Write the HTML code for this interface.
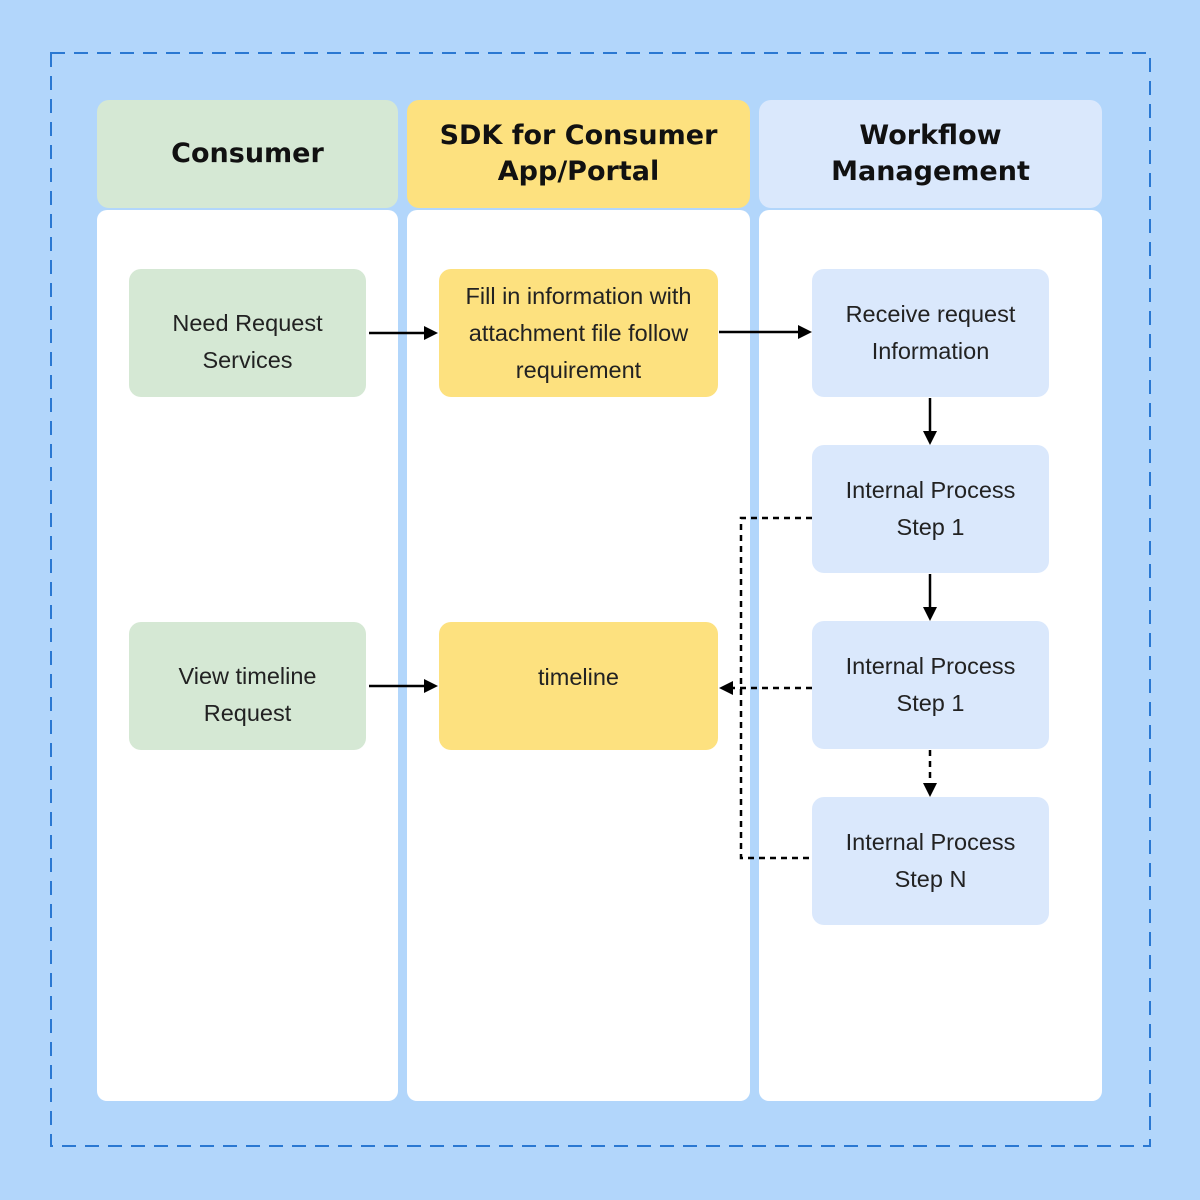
<!DOCTYPE html>
<html><head><meta charset="utf-8"><style>
body{margin:0;width:1200px;height:1200px;background:#b2d6fb;position:relative;overflow:hidden;font-family:"Liberation Sans",sans-serif}
.a{position:absolute;box-sizing:border-box}
.hd{border-radius:12px;font-family:"DejaVu Sans",sans-serif;font-weight:bold;font-size:27px;line-height:36px;display:flex;align-items:center;justify-content:center;text-align:center;color:#111}
.bd{background:#fff;border-radius:10px}
.n{border-radius:12px;font-size:23.5px;line-height:37px;display:flex;align-items:center;justify-content:center;text-align:center;color:#222}
.g{background:#d5e8d4}.y{background:#fde17f}.b{background:#dae8fc}
</style></head><body>
<div class="a hd g" style="left:97px;top:100px;width:301px;height:108px">Consumer</div>
<div class="a hd y" style="left:407px;top:100px;width:343px;height:108px">SDK for Consumer<br>App/Portal</div>
<div class="a hd b" style="left:759px;top:100px;width:343px;height:108px">Workflow<br>Management</div>
<div class="a bd" style="left:97px;top:210px;width:301px;height:891px"></div>
<div class="a bd" style="left:407px;top:210px;width:343px;height:891px"></div>
<div class="a bd" style="left:759px;top:210px;width:343px;height:891px"></div>
<div class="a n g" style="left:129px;top:269px;width:237px;height:128px;padding-top:18px">Need Request<br>Services</div>
<div class="a n y" style="left:439px;top:269px;width:279px;height:128px">Fill in information with<br>attachment file follow<br>requirement</div>
<div class="a n b" style="left:812px;top:269px;width:237px;height:128px">Receive request<br>Information</div>
<div class="a n b" style="left:812px;top:445px;width:237px;height:128px">Internal Process<br>Step 1</div>
<div class="a n b" style="left:812px;top:621px;width:237px;height:128px">Internal Process<br>Step 1</div>
<div class="a n b" style="left:812px;top:797px;width:237px;height:128px">Internal Process<br>Step N</div>
<div class="a n g" style="left:129px;top:622px;width:237px;height:128px;padding-top:18px">View timeline<br>Request</div>
<div class="a n y" style="left:439px;top:622px;width:279px;height:128px;align-items:flex-start;padding-top:37px">timeline</div>
<svg class="a" style="left:0;top:0" width="1200" height="1200">
<rect x="51" y="53" width="1099" height="1093" fill="none" stroke="#2a78d2" stroke-width="2" stroke-dasharray="14,9"/>
<g stroke="#000" stroke-width="2.5" fill="none">
<line x1="369" y1="333" x2="428" y2="333"/>
<line x1="719" y1="332" x2="802" y2="332"/>
<line x1="930" y1="398" x2="930" y2="435"/>
<line x1="930" y1="574" x2="930" y2="611"/>
<line x1="369" y1="686" x2="428" y2="686"/>
<g stroke-dasharray="6,5">
<line x1="930" y1="750" x2="930" y2="787"/>
<polyline points="812,518 741,518 741,858 812,858"/>
<line x1="812" y1="688" x2="731" y2="688"/>
</g></g>
<g fill="#000">
<polygon points="438,333 424,326 424,340"/>
<polygon points="812,332 798,325 798,339"/>
<polygon points="930,445 923,431 937,431"/>
<polygon points="930,621 923,607 937,607"/>
<polygon points="438,686 424,679 424,693"/>
<polygon points="930,797 923,783 937,783"/>
<polygon points="719,688 733,681 733,695"/>
</g></svg>
</body></html>
